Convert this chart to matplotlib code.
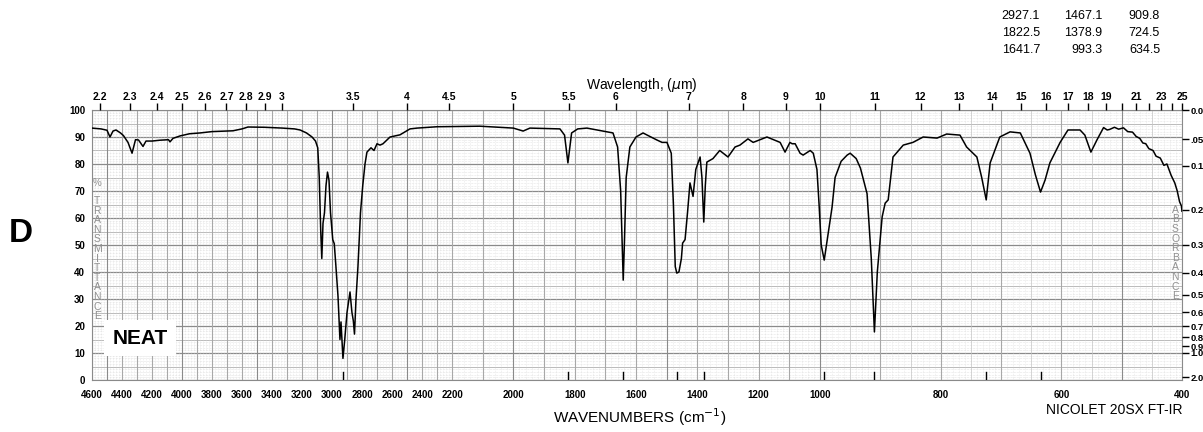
import numpy as np
import matplotlib.pyplot as plt

plt.rcParams['font.family'] = ['Liberation Sans', 'DejaVu Sans']

# spectrum: wavenumber (cm-1) and %T
wn = [4600, 4540, 4500, 4480, 4460, 4440, 4410, 4390, 4360, 4333, 4310, 4290, 4260, 4240,
      4200, 4150, 4090, 4080, 4060, 4013, 3950, 3880, 3800, 3660, 3600, 3560, 3450, 3330,
      3250, 3213, 3170, 3133, 3110, 3095, 3085, 3075, 3068, 3060, 3050, 3040, 3030, 3020,
      3010, 2995, 2985, 2975, 2960, 2947, 2940, 2933, 2927, 2915, 2900, 2880, 2867, 2858,
      2850, 2840, 2827, 2810, 2795, 2780, 2767, 2740, 2720, 2700, 2680, 2660, 2613, 2547,
      2480, 2433, 2300, 2109, 2000, 1968, 1946, 1848, 1833, 1822, 1810, 1790, 1760, 1700,
      1675, 1660, 1650, 1645, 1641.7, 1638, 1632, 1620, 1600, 1577, 1560, 1532, 1515, 1499,
      1485, 1478, 1472, 1467, 1460, 1452, 1448, 1440, 1432, 1424, 1418, 1414, 1405, 1391,
      1385, 1379, 1374, 1369, 1349, 1327, 1300, 1277, 1261, 1235, 1218, 1173, 1130, 1114,
      1098, 1091, 1081, 1065, 1055, 1032, 1022, 1010, 1003, 998, 993, 988, 980, 975, 965,
      955, 950, 940, 933, 922, 915, 909.8, 905, 897, 892, 887, 879, 862, 846, 829, 806,
      790, 768, 757, 740, 732, 724.5, 718, 702, 685, 668, 652, 643, 634.5, 627, 619, 602,
      589, 569, 561, 551, 541, 530, 524, 520, 512, 505, 497, 490, 482, 476, 470, 465, 460,
      455, 448, 443, 436, 430, 425, 418, 412, 408, 404, 401, 400]
trans = [93.3, 93.0, 92.5, 90.0, 92.2, 92.6, 91.5, 90.5, 88.0, 84.0, 89.0, 88.9, 86.5, 88.5,
         88.5, 88.8, 89.0, 88.2, 89.5, 90.4, 91.2, 91.5, 92.0, 92.3, 93.0, 93.7, 93.6, 93.3,
         93.0, 92.6, 91.5, 90.0, 88.5, 86.0, 75.0, 55.0, 45.0, 58.0, 62.0, 72.0, 77.0, 74.0,
         62.0, 52.0, 50.5, 43.0, 31.0, 15.0, 21.5, 14.0, 8.0, 15.0, 25.0, 32.6, 25.0, 22.0,
         17.0, 30.0, 42.0, 62.0, 72.0, 80.0, 84.4, 86.0, 85.0, 87.5, 87.0, 87.5, 90.0, 90.8,
         93.0, 93.3, 93.8, 94.0, 93.3, 92.2, 93.3, 93.0, 90.7, 80.4, 91.5, 93.0, 93.3, 92.0,
         91.5, 86.3, 70.0, 50.0, 37.0, 50.0, 75.0, 86.3, 90.0, 91.5, 90.5, 88.9, 88.0, 88.0,
         84.0, 65.0, 42.0, 39.6, 40.0, 45.0, 50.7, 52.0, 62.0, 73.0, 70.0, 68.0, 78.0, 82.6,
         75.0, 58.5, 72.0, 80.7, 82.0, 85.0, 82.6, 86.3, 87.0, 89.3, 88.0, 90.0, 88.0, 84.4,
         88.0, 87.5, 87.5, 84.0, 83.3, 85.0, 84.0, 78.0, 65.0, 50.0, 44.4, 52.0, 64.0, 75.0,
         81.0, 83.3, 84.0, 82.0, 78.5, 69.0, 45.0, 17.8, 40.0, 60.4, 65.5, 66.7, 82.6, 87.0,
         88.0, 90.0, 89.6, 91.1, 90.7, 86.3, 82.6, 75.0, 66.7, 80.4, 90.0, 91.9, 91.5, 84.0,
         76.0, 69.6, 74.0, 80.4, 88.0, 92.6, 92.6, 90.7, 84.4, 88.9, 93.5, 92.6, 92.8, 93.6,
         92.9, 93.4, 92.0, 91.8, 90.2, 89.5, 87.8, 87.5, 85.7, 85.0, 82.9, 82.2, 79.5, 80.0,
         75.8, 73.0, 70.1, 66.0, 64.5, 62.5]

peaks = [[2927.1, 1467.1, 909.8],
         [1822.5, 1378.9, 724.5],
         [1641.7, 993.3, 634.5]]

wn_ticks = [4600, 4400, 4200, 4000, 3800, 3600, 3400, 3200, 3000, 2800, 2600, 2400, 2200,
            2000, 1800, 1600, 1400, 1200, 1000, 800, 600, 400]
um_labeled = [2.2, 2.3, 2.4, 2.5, 2.6, 2.7, 2.8, 2.9, 3, 3.5, 4, 4.5, 5, 5.5, 6, 7, 8, 9,
              10, 11, 12, 13, 14, 15, 16, 17, 18, 19, 21, 23, 25]
um_plain = [20, 22, 24]
abs_ticks = [0.0, 0.05, 0.1, 0.2, 0.3, 0.4, 0.5, 0.6, 0.7, 0.8, 0.9, 1.0, 2.0]
abs_labels = ['0.0', '.05', '0.1', '0.2', '0.3', '0.4', '0.5', '0.6', '0.7', '0.8', '0.9', '1.0', '2.0']

# piecewise linear wavenumber axis (three chart speeds)
bp_wn = [0, 400, 1000, 2200, 4600, 20000]
bp_u = [-241.3, 0, 362, 730, 1090, 3400]


def fwd(x):
    return np.interp(x, bp_wn, bp_u)


def inv(u):
    return np.interp(u, bp_u, bp_wn)


fig = plt.figure(figsize=(12.03, 4.32), dpi=100)
W, H = 1203, 432
ax = fig.add_axes([92 / W, 1 - 380 / H, 1090 / W, 270 / H])
ax.set_xscale('function', functions=(fwd, inv))
ax.set_xlim(4600, 400)
ax.set_ylim(0, 100)

# chart paper grid
for v in range(0, 101):
    if v % 10 == 0:
        ax.axhline(v, color='#8a8a8a', lw=0.9, zorder=1)
    elif v % 5 == 0:
        ax.axhline(v, color='#b0b0b0', lw=0.6, zorder=1)
    else:
        ax.axhline(v, color='#cfcfcf', lw=0.4, ls=':', zorder=1)
for v in range(400, 4601, 10):
    if v % 100 == 0:
        ax.axvline(v, color='#8a8a8a' if v % 500 == 0 else '#a8a8a8', lw=0.8, zorder=1)
    elif v < 1000 and v % 50 == 0:
        ax.axvline(v, color='#c4c4c4', lw=0.5, zorder=1)
    elif (v < 1000 and v % 10 == 0) or v % 20 == 0:
        ax.axvline(v, color='#d6d6d6', lw=0.4, ls=':', zorder=1)

ax.plot(wn, trans, color='black', lw=1.1, zorder=3)

# peak markers along the bottom
for row in peaks:
    for p in row:
        ax.plot([p, p], [0, 3], color='black', lw=1.0, zorder=3)

for s in ax.spines.values():
    s.set_color('#8a8a8a')
    s.set_linewidth(0.8)

ax.set_xticks(wn_ticks)
ax.set_xticklabels([str(t) for t in wn_ticks])
ax.xaxis.set_minor_locator(plt.NullLocator())
ax.set_yticks(range(0, 101, 10))
ax.set_yticklabels([str(t) for t in range(0, 101, 10)])
ax.tick_params(axis='x', length=0, pad=7, labelsize=7)
ax.tick_params(axis='y', length=0, pad=5, labelsize=7)
for lab in ax.get_xticklabels() + ax.get_yticklabels():
    lab.set_fontweight('bold')

# wavelength axis on top
axt = ax.twiny()
axt.set_xscale('function', functions=(fwd, inv))
axt.set_xlim(4600, 400)
um_all = um_labeled + um_plain
axt.set_xticks([1e4 / u for u in um_all])
axt.set_xticklabels([('%g' % u) for u in um_labeled] + [''] * len(um_plain))
axt.xaxis.set_minor_locator(plt.NullLocator())
axt.tick_params(axis='x', length=5, width=1, pad=1, labelsize=7.5)
for lab in axt.get_xticklabels():
    lab.set_fontweight('bold')
for s in axt.spines.values():
    s.set_visible(False)

# absorbance axis on right
axr = ax.twinx()
axr.set_ylim(0, 100)
axr.set_yticks([100 * 10 ** (-a) for a in abs_ticks])
axr.set_yticklabels(abs_labels)
axr.tick_params(axis='y', length=5, width=1, pad=1, labelsize=6.8)
for lab in axr.get_yticklabels():
    lab.set_fontweight('bold')
for s in axr.spines.values():
    s.set_visible(False)

ax.text(4565, 73, '%', color='#909090', fontsize=7, ha='center', va='center', zorder=4)
ax.text(4565, 45, '\n'.join('TRANSMITTANCE'), color='#909090', fontsize=7.5,
        ha='center', va='center', linespacing=0.95, zorder=4)
ax.text(411, 47, '\n'.join('ABSORBANCE'), color='#909090', fontsize=7.5,
        ha='center', va='center', linespacing=0.95, zorder=4)
ax.text(4465, 15.5, 'NEAT', fontsize=15, fontweight='bold', ha='left', va='center', zorder=4,
        bbox=dict(facecolor='white', edgecolor='none', pad=6))

fig.text(642 / W, 1 - 85 / H, r'Wavelength, ($\mu$m)', fontsize=10, ha='center', va='center')
fig.text(640 / W, 1 - 417 / H, r'WAVENUMBERS (cm$^{-1}$)', fontsize=11, ha='center', va='center')
fig.text(1183 / W, 1 - 410 / H, 'NICOLET 20SX FT-IR', fontsize=10, ha='right', va='center')
fig.text(21 / W, 1 - 233 / H, 'D', fontsize=24, fontweight='bold', ha='center', va='center')

col_x = [1040, 1102, 1160]
row_y = [16, 33, 50]
for r, row in enumerate(peaks):
    for c, p in enumerate(row):
        fig.text(col_x[c] / W, 1 - row_y[r] / H, '%.1f' % p, fontsize=9,
                 ha='right', va='center')

fig.savefig('out.png', dpi=100)
